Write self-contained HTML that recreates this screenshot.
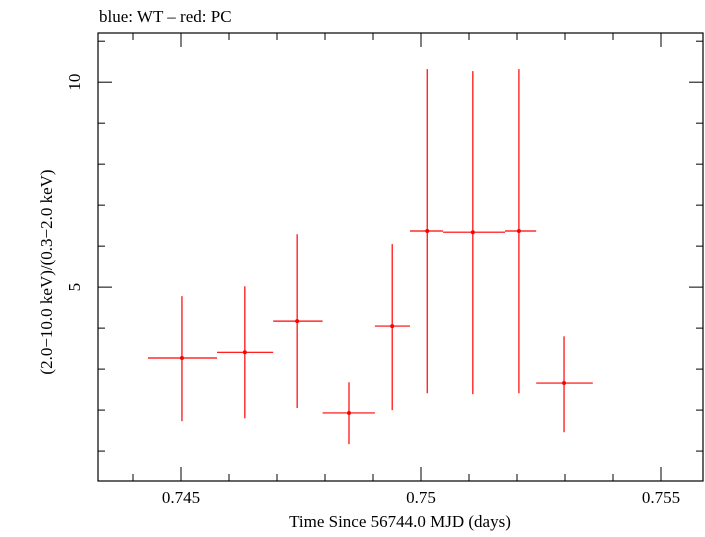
<!DOCTYPE html>
<html><head><meta charset="utf-8"><style>
body{margin:0;background:#fff}
svg text{font-family:"Liberation Serif",serif;fill:#000}
</style></head><body>
<svg width="705" height="532" xmlns="http://www.w3.org/2000/svg">
<text x="99" y="22" font-size="17">blue: WT – red: PC</text>
<rect x="98" y="33" width="605" height="448" fill="none" stroke="#000" stroke-width="1.2"/>
<g id="ticks"></g>
<g id="marks"></g>
<text x="400" y="527" font-size="17" text-anchor="middle">Time Since 56744.0 MJD (days)</text>
<text transform="translate(52,272) rotate(-90)" font-size="17" text-anchor="middle">(2.0−10.0 keV)/(0.3−2.0 keV)</text>
</svg>
<script>
const xCenters=[0.74502,0.74633,0.74742,0.74850,0.74940,0.75013,0.75108,0.75204,0.75298];
const xLo=[0.74431,0.74575,0.74692,0.74795,0.74904,0.74977,0.75046,0.75175,0.75240];
const xHi=[0.74575,0.74692,0.74795,0.74904,0.74977,0.75046,0.75175,0.75240,0.75358];
const yVals=[3.27,3.41,4.17,1.93,4.05,6.37,6.34,6.37,2.66];
const yLo=[1.73,1.80,2.05,1.17,2.0,2.41,2.39,2.41,1.46];
const yHi=[4.78,5.02,6.29,2.68,6.05,10.32,10.27,10.32,3.80];
const xTickLabels=["0.745","0.75","0.755"];
const xTickVals=[0.745,0.75,0.755];
const yTickLabels=["5","10"];
const yTickVals=[5,10];
const X0=0.743271,X1=0.755875,Y0=0.27,Y1=11.2;
const L=98,R=703,T=33,B=481;
const sx=v=>L+(v-X0)/(X1-X0)*(R-L);
const sy=v=>B-(v-Y0)/(Y1-Y0)*(B-T);
const NS="http://www.w3.org/2000/svg";
function mk(tag,attrs,parent){const e=document.createElementNS(NS,tag);for(const k in attrs)e.setAttribute(k,attrs[k]);parent.appendChild(e);return e;}
const tg=document.getElementById('ticks'),mg=document.getElementById('marks');
for(let k=744;k<=755;k++){const v=k/1000;const x=sx(v);const major=k%5===0;const len=major?14:7;
 const t=mk('line',{x1:x,x2:x,y1:B,y2:B-len,stroke:'#000'},tg);
 
 
 const t2=mk('line',{x1:x,x2:x,y1:T,y2:T+len,stroke:'#000'},tg);
 
 }
for(let v=1;v<=11;v++){const y=sy(v);const len=v%5===0?14:7;
 const t=mk('line',{x1:L,x2:L+len,y1:y,y2:y,stroke:'#000'},tg);
 
 
 const t2=mk('line',{x1:R,x2:R-len,y1:y,y2:y,stroke:'#000'},tg);
 
 }
xTickVals.forEach((v,i)=>{const t=mk('text',{x:sx(v),y:503,'font-size':17,'text-anchor':'middle'},tg);t.textContent=xTickLabels[i];
 
 });
yTickVals.forEach((v,i)=>{const t=mk('text',{transform:`translate(80,${sy(v)}) rotate(-90)`,'font-size':17,'text-anchor':'middle'},tg);t.textContent=yTickLabels[i];
 
 });
xCenters.forEach((xc,i)=>{const g=mk('g',{},mg);
 
 
 mk('line',{x1:sx(xLo[i]),x2:sx(xHi[i]),y1:sy(yVals[i]),y2:sy(yVals[i]),stroke:'#f00','stroke-width':1.2},g);
 mk('line',{x1:sx(xc),x2:sx(xc),y1:sy(yLo[i]),y2:sy(yHi[i]),stroke:'#f00','stroke-width':1.2},g);
 mk('circle',{cx:sx(xc),cy:sy(yVals[i]),r:2,fill:'#f00'},g);});
</script>
</body></html>
